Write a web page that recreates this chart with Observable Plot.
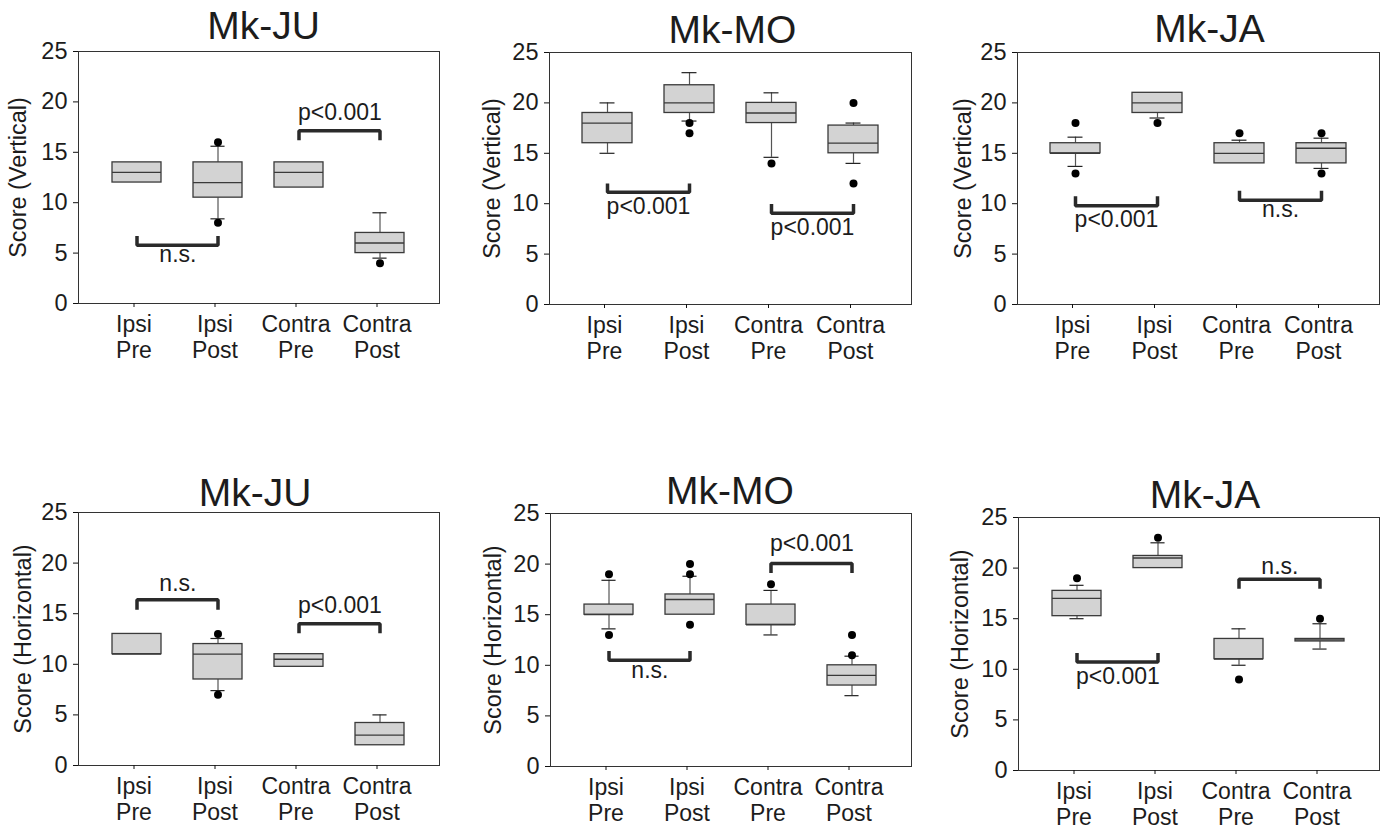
<!DOCTYPE html>
<html><head><meta charset="utf-8">
<script src="https://cdn.jsdelivr.net/npm/d3@7"></script>
<script src="https://cdn.jsdelivr.net/npm/@observablehq/plot@0.6"></script>
<style>
html,body{margin:0;padding:0;background:#fff;}
#root{position:relative;width:1389px;height:832px;overflow:hidden;background:#fff;}
#root svg{position:absolute;}
</style></head><body><div id="root"></div>
<script>
// ---------- data ----------
const categories = ["Ipsi Pre", "Ipsi Post", "Contra Pre", "Contra Post"];
const panelTitles = ["Mk-JU", "Mk-MO", "Mk-JA", "Mk-JU", "Mk-MO", "Mk-JA"];
const panelYLabels = ["Score (Vertical)", "Score (Vertical)", "Score (Vertical)",
                      "Score (Horizontal)", "Score (Horizontal)", "Score (Horizontal)"];
const yTicks = [0, 5, 10, 15, 20, 25];

const q1 = [
  [12, 10.5, 11.5, 5],
  [16, 19, 18, 15],
  [15, 19, 14, 14],
  [11, 8.5, 9.75, 2],
  [15, 15, 14, 8],
  [15.25, 20, 11, 12.75]
];
const median = [
  [13, 12, 13, 6],
  [18, 20, 19, 16],
  [15, 20, 15, 15.5],
  [11, 11, 10.5, 3],
  [15, 16.5, 14, 9],
  [17, 21, 11, 12.9]
];
const q3 = [
  [14, 14, 14, 7],
  [19, 21.75, 20, 17.75],
  [16, 21, 16, 16],
  [13, 12, 11, 4.2],
  [16, 17, 16, 10],
  [17.75, 21.2, 13, 13]
];
const whiskerLow = [
  [12, 8.4, 11.5, 4.5],
  [15, 18.2, 14.6, 14],
  [13.7, 18.5, 14, 13.5],
  [11, 7.4, 9.75, 2],
  [13.6, 15, 13, 7],
  [15, 20, 10.4, 12]
];
const whiskerHigh = [
  [14, 15.6, 14, 9],
  [20, 23, 21, 18],
  [16.6, 21, 16.3, 16.5],
  [13, 12.55, 11, 5],
  [18.4, 18.8, 17.4, 10.9],
  [18.3, 22.5, 14, 14.5]
];
const outliers = [
  [[], [16, 8], [], [4]],
  [[], [18, 17], [14], [20, 12]],
  [[18, 13], [18], [17], [17, 13]],
  [[], [13, 7], [], []],
  [[19, 13], [20, 19, 14], [18], [13, 11]],
  [[19], [23], [9], [15]]
];
const bracketPairs = [
  [[0, 1], [2, 3]], [[0, 1], [2, 3]], [[0, 1], [2, 3]],
  [[0, 1], [2, 3]], [[0, 1], [2, 3]], [[0, 1], [2, 3]]
];
const bracketY = [
  [5.77, 17.15], [11.13, 9.05], [9.79, 10.35],
  [16.37, 14.0], [10.49, 20.05], [10.72, 18.9]
];
const bracketLegY = [
  [6.7, 16.2], [12.0, 9.97], [10.75, 11.28],
  [15.4, 13.08], [11.41, 19.13], [11.6, 17.97]
];
const bracketLabels = [
  ["n.s.", "p<0.001"], ["p<0.001", "p<0.001"], ["p<0.001", "n.s."],
  ["n.s.", "p<0.001"], ["n.s.", "p<0.001"], ["p<0.001", "n.s."]
];
const bracketLabelY = [
  [4.12, 18.2], [8.98, 6.9], [7.64, 8.7],
  [17.23, 15.05], [8.77, 21.27], [8.58, 19.46]
];

// ---------- layout ----------
const layout = [
  {left: 78,   top: 51,  width: 361, height: 252, titleDx: 4.5, titleGap: 13, yLabelOffset: 60},
  {left: 549,  top: 52,  width: 362, height: 252, titleDx: 2,   titleGap: 10, yLabelOffset: 57},
  {left: 1017, top: 52,  width: 362, height: 252, titleDx: 11,  titleGap: 10.5, yLabelOffset: 54},
  {left: 78,   top: 512, width: 361, height: 253, titleDx: -4,  titleGap: 7,  yLabelOffset: 55},
  {left: 550,  top: 513, width: 361, height: 253, titleDx: -1,  titleGap: 10, yLabelOffset: 57},
  {left: 1018, top: 517, width: 361, height: 253, titleDx: 6,   titleGap: 10, yLabelOffset: 58}
];
const M = {left: 80, top: 60, right: 12, bottom: 75};
const font = "'Liberation Sans', Arial, Helvetica, sans-serif";
const ink = "#1c1c1c";
const root = document.getElementById("root");

layout.forEach((L, p) => {
  const boxes = categories.map((c, i) => ({
    cat: c, q1: q1[p][i], med: median[p][i], q3: q3[p][i],
    lo: whiskerLow[p][i], hi: whiskerHigh[p][i]
  }));
  const outl = outliers[p].flatMap((vs, i) => vs.map(v => ({cat: categories[i], v})));
  const brk = bracketPairs[p].map(([a, b], k) => ({
    id: k, a: categories[a], b: categories[b], span: b - a,
    y: bracketY[p][k], leg: bracketLegY[p][k],
    label: bracketLabels[p][k], ly: bracketLabelY[p][k]
  }));
  const pts = brk.flatMap(d => [
    {id: d.id, cat: d.a, y: d.leg}, {id: d.id, cat: d.a, y: d.y},
    {id: d.id, cat: d.b, y: d.y}, {id: d.id, cat: d.b, y: d.leg}
  ]);
  const pi = 0.39, po = 0.402;
  const step = L.width / (categories.length - pi + 2 * po);
  const capInset = (step * (1 - pi) - 15) / 2;

  const svg = Plot.plot({
    width: M.left + L.width + M.right,
    height: M.top + L.height + M.bottom,
    marginLeft: M.left, marginTop: M.top, marginRight: M.right, marginBottom: M.bottom,
    style: {fontFamily: font, fontSize: "23px", color: ink, background: "transparent", overflow: "visible"},
    x: {type: "band", domain: categories, paddingInner: pi, paddingOuter: po},
    y: {domain: [0, 25]},
    marks: [
      Plot.frame({stroke: "#333", strokeWidth: 1}),
      Plot.axisY({ticks: yTicks, tickSize: 5, tickPadding: 6, fontSize: 23.5, label: null, stroke: "#111"}),
      Plot.axisX({tickSize: 4, tickPadding: 6, fontSize: 23, lineHeight: 1.13, label: null,
                  tickFormat: d => d.replace(" ", "\n"), stroke: "#111", textStroke: null, dx: -3}),
      Plot.ruleX(boxes.filter(d => d.hi > d.q3), {x: "cat", y1: "q3", y2: "hi", stroke: "#555", strokeWidth: 1.2}),
      Plot.ruleX(boxes.filter(d => d.lo < d.q1), {x: "cat", y1: "lo", y2: "q1", stroke: "#555", strokeWidth: 1.2}),
      Plot.tickY(boxes.filter(d => d.hi > d.q3), {x: "cat", y: "hi", insetLeft: capInset, insetRight: capInset, stroke: "#222", strokeWidth: 1.2}),
      Plot.tickY(boxes.filter(d => d.lo < d.q1), {x: "cat", y: "lo", insetLeft: capInset, insetRight: capInset, stroke: "#222", strokeWidth: 1.2}),
      Plot.barY(boxes, {x: "cat", y1: "q1", y2: "q3", fill: "#d3d3d3", stroke: "#3a3a3a", strokeWidth: 1.3}),
      Plot.tickY(boxes, {x: "cat", y: "med", stroke: "#3a3a3a", strokeWidth: 1.3}),
      Plot.dot(outl, {x: "cat", y: "v", r: 4, fill: "#000", stroke: null}),
      Plot.line(pts, {x: "cat", y: "y", z: "id", stroke: "#2a2a2a", strokeWidth: 3.5,
                      strokeLinejoin: "miter", strokeLinecap: "butt", curve: "linear"}),
      Plot.text(brk, {x: "a", y: "ly", text: "label", dx: step / 2, lineAnchor: "bottom",
                      fontSize: 23, fill: ink}),
      Plot.text([panelTitles[p]], {frameAnchor: "top", dy: -L.titleGap, dx: L.titleDx,
                      lineAnchor: "bottom", fontSize: 39, fill: ink}),
      Plot.text([panelYLabels[p]], {frameAnchor: "left", dx: -L.yLabelOffset, rotate: -90,
                      textAnchor: "middle", lineAnchor: "middle", fontSize: 23.5, fill: ink})
    ]
  });
  svg.style.left = (L.left - M.left) + "px";
  svg.style.top = (L.top - M.top) + "px";
  root.append(svg);
});
</script></body></html>
